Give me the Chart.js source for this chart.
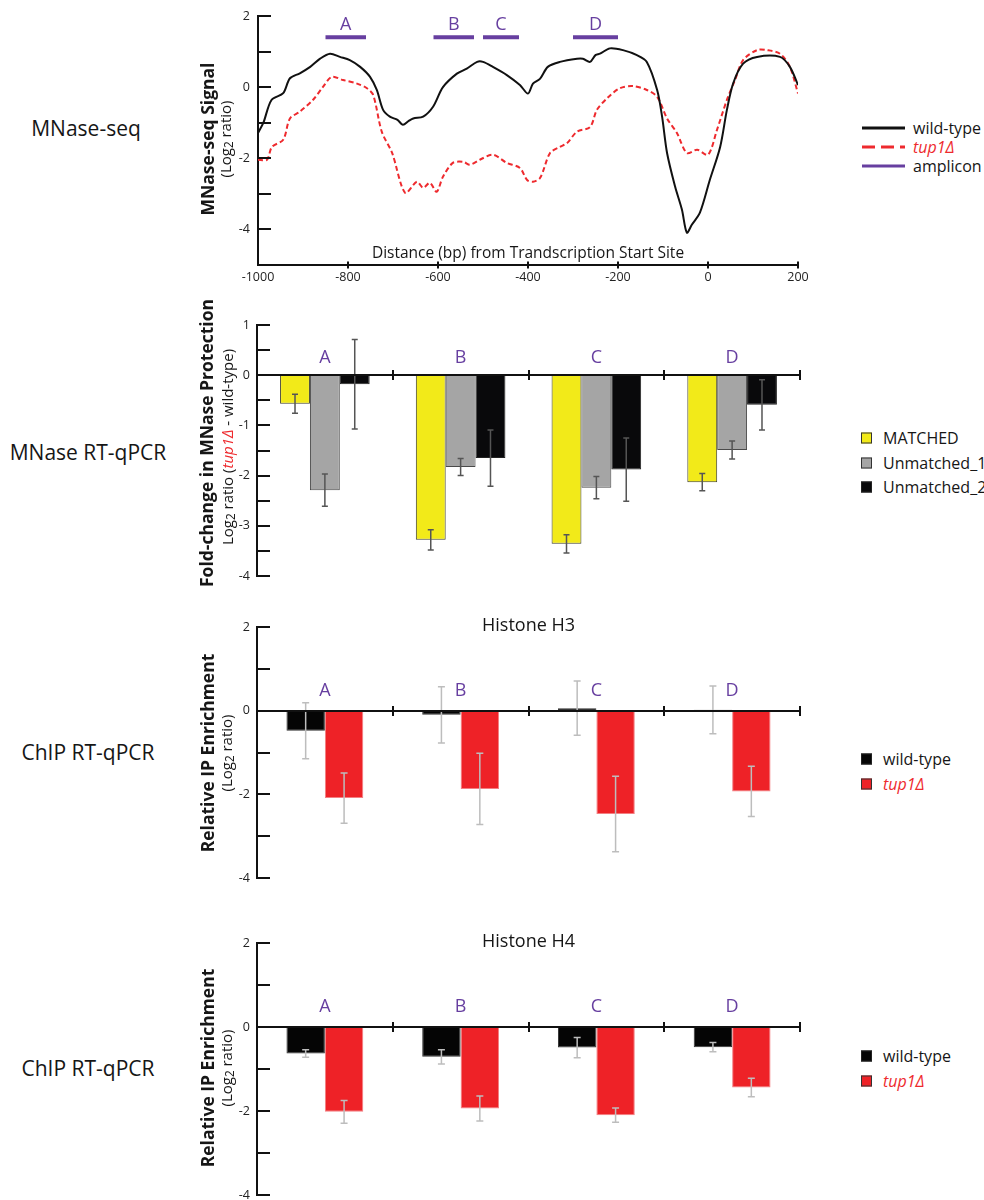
<!DOCTYPE html>
<html><head><meta charset="utf-8">
<script src="https://cdn.jsdelivr.net/npm/chart.js@4.4.1/dist/chart.umd.min.js"></script>
<style>
html,body{margin:0;padding:0;overflow:hidden;background:#fff;}
#page{position:relative;width:984px;height:1200px;overflow:hidden;font-family:'Open Sans',sans-serif;color:#161616;}
.cv{position:absolute;}
.lbl{position:absolute;transform:translate(-50%,-50%);white-space:nowrap;font-size:21px;}
.rot{position:absolute;transform:translate(-50%,-50%) rotate(-90deg);white-space:nowrap;}
.b{font-weight:bold;font-size:17.5px;}
.r{font-size:15px;}
.leg{position:absolute;white-space:nowrap;font-size:16px;transform:translateY(-50%);line-height:1;}
.sw{position:absolute;width:11px;height:11px;box-sizing:border-box;transform:translateY(-50%);}
.ln{position:absolute;width:43px;height:3px;transform:translateY(-50%);}
.tup{color:#ee2a2e;font-style:italic;}
.s2{font-size:78%;position:relative;top:2px;}
</style></head><body><div id="page">
<canvas id="c1" class="cv" width="620" height="300" style="left:200px;top:0px;width:620px;height:300px"></canvas>
<canvas id="c2" class="cv" width="620" height="300" style="left:200px;top:300px;width:620px;height:300px"></canvas>
<canvas id="c3" class="cv" width="620" height="290" style="left:200px;top:610px;width:620px;height:290px"></canvas>
<canvas id="c4" class="cv" width="620" height="295" style="left:200px;top:920px;width:620px;height:295px"></canvas>

<div class="lbl" style="left:86px;top:128px">MNase-seq</div>
<div class="lbl" style="left:88px;top:452px">MNase RT-qPCR</div>
<div class="lbl" style="left:88px;top:752px">ChIP RT-qPCR</div>
<div class="lbl" style="left:88px;top:1068px">ChIP RT-qPCR</div>

<div class="rot b" style="left:207px;top:139px">MNase-seq Signal</div>
<div class="rot r" style="left:225px;top:139px">(Log<span class="s2">2</span> ratio)</div>
<div class="rot b" style="left:206px;top:443px">Fold-change in MNase Protection</div>
<div class="rot r" style="left:227px;top:447px">Log<span class="s2">2</span> ratio (<span class="tup">tup1Δ</span> - wild-type)</div>
<div class="rot b" style="left:207px;top:753px">Relative IP Enrichment</div>
<div class="rot r" style="left:226px;top:753px">(Log<span class="s2">2</span> ratio)</div>
<div class="rot b" style="left:207px;top:1068px">Relative IP Enrichment</div>
<div class="rot r" style="left:226px;top:1068px">(Log<span class="s2">2</span> ratio)</div>

<div class="ln" style="left:862px;top:128px;background:#111;height:3px"></div>
<div class="ln" style="left:862px;top:147px;background:repeating-linear-gradient(90deg,#ee2a2e 0 13px,transparent 13px 19px)"></div>
<div class="ln" style="left:862px;top:166px;background:#673fa0;height:3px"></div>
<div class="leg" style="left:913px;top:128px">wild-type</div>
<div class="leg tup" style="left:913px;top:147px">tup1Δ</div>
<div class="leg" style="left:913px;top:166px">amplicon</div>

<div class="sw" style="left:861px;top:438px;background:#f2ea19;border:1px solid #333"></div>
<div class="sw" style="left:861px;top:463px;background:#a5a5a5;border:1px solid #333"></div>
<div class="sw" style="left:861px;top:487px;background:#09090b;border:1px solid #222"></div>
<div class="leg" style="left:883px;top:438px">MATCHED</div>
<div class="leg" style="left:883px;top:463px">Unmatched_1</div>
<div class="leg" style="left:883px;top:487px">Unmatched_2</div>

<div class="sw" style="left:861px;top:759px;background:#050505;border:1px solid #222"></div>
<div class="sw" style="left:861px;top:784px;background:#ee2227;border:1px solid #333"></div>
<div class="leg" style="left:883px;top:759px">wild-type</div>
<div class="leg tup" style="left:883px;top:784px">tup1Δ</div>

<div class="sw" style="left:861px;top:1056px;background:#050505;border:1px solid #222"></div>
<div class="sw" style="left:861px;top:1081px;background:#ee2227;border:1px solid #333"></div>
<div class="leg" style="left:883px;top:1056px">wild-type</div>
<div class="leg tup" style="left:883px;top:1081px">tup1Δ</div>
</div>
<script>
// ---------------- DATA ----------------
// Panel 1: MNase-seq signal (log2 ratio) vs distance from TSS (bp)
const wtPos = [-1000,-988,-970,-944,-929,-907,-884,-862,-840,-818,-796,-773,-751,-736,-722,-707,-690,-678,-665,-655,-633,-611,-589,-558,-536,-513,-500,-478,-447,-418,-400,-389,-373,-356,-329,-291,-278,-262,-250,-240,-218,-189,-158,-136,-113,-102,-91,-73,-58,-47,-36,-18,4,27,42,56,78,109,160,182,200];
const wtVal = [-1.29,-1.0,-0.36,-0.17,0.25,0.39,0.57,0.80,0.94,0.85,0.76,0.57,0.29,-0.08,-0.64,-0.83,-0.92,-1.06,-0.95,-0.88,-0.83,-0.55,0.0,0.38,0.52,0.71,0.71,0.57,0.34,0.06,-0.18,0.10,0.24,0.57,0.71,0.80,0.80,0.71,0.90,0.94,1.09,1.04,0.90,0.71,-0.08,-0.83,-1.85,-2.80,-3.44,-4.09,-3.87,-3.53,-2.61,-1.68,-0.64,0.11,0.66,0.85,0.85,0.57,0.06];
const tupPos = [-1000,-980,-969,-944,-929,-907,-878,-856,-836,-811,-780,-758,-744,-725,-702,-673,-647,-633,-618,-603,-589,-567,-544,-529,-507,-478,-447,-418,-402,-389,-373,-351,-329,-313,-291,-262,-247,-224,-196,-167,-136,-113,-91,-69,-47,-24,0,20,42,60,78,109,131,160,182,200];
const tupVal = [-2.04,-2.04,-1.68,-1.48,-0.88,-0.69,-0.36,0.0,0.29,0.20,0.10,-0.03,-0.22,-1.25,-1.85,-2.97,-2.66,-2.83,-2.69,-2.94,-2.52,-2.13,-2.10,-2.18,-2.04,-1.90,-2.13,-2.27,-2.61,-2.66,-2.55,-1.85,-1.68,-1.57,-1.25,-1.12,-0.64,-0.31,-0.03,0.03,-0.08,-0.27,-0.88,-1.29,-1.85,-1.76,-1.90,-1.20,-0.36,0.20,0.76,1.04,1.04,0.94,0.57,-0.18];
const ampLabels = ['A','B','C','D'];
const ampStart = [-850,-610,-500,-300];
const ampEnd   = [-760,-520,-420,-200];
const ampLevel = [1.4,1.4,1.4,1.4];
const seqXTicks = [-1000,-800,-600,-400,-200,0,200];
const seqXTitle = 'Distance (bp) from Trandscription Start Site';

// Panels 2-4: amplicon categories
const categories = ['A','B','C','D'];
// Panel 2: MNase RT-qPCR, log2 ratio (tup1Δ - wild-type)
const mnMatched = [-0.57,-3.28,-3.36,-2.13];
const mnMatchedErr = [0.19,0.20,0.18,0.17];
const mnUnm1 = [-2.29,-1.83,-2.24,-1.49];
const mnUnm1Err = [0.32,0.17,0.22,0.18];
const mnUnm2 = [-0.18,-1.65,-1.88,-0.59];
const mnUnm2Err = [0.89,0.56,0.63,0.50];
// Panel 3: Histone H3 ChIP
const h3Wt = [-0.48,-0.10,0.06,0.02];
const h3WtErr = [0.67,0.67,0.65,0.57];
const h3Tup = [-2.09,-1.87,-2.47,-1.93];
const h3TupErr = [0.60,0.85,0.90,0.60];
// Panel 4: Histone H4 ChIP
const h4Wt = [-0.63,-0.71,-0.49,-0.48];
const h4WtErr = [0.09,0.17,0.24,0.11];
const h4Tup = [-2.02,-1.94,-2.10,-1.44];
const h4TupErr = [0.27,0.30,0.17,0.22];

// ---------------- STYLE ----------------
const FONT = "'Open Sans', sans-serif";
const PURPLE = '#673fa0';
const RED = '#ee2a2e';
Chart.defaults.font.family = FONT;
Chart.defaults.color = '#222';
Chart.defaults.animation = false;

// ---------------- PANEL 1 ----------------
const ampData = [];
ampStart.forEach((s,i)=>{ampData.push({x:s,y:ampLevel[i]},{x:ampEnd[i],y:ampLevel[i]},{x:ampEnd[i]+1,y:null});});

const seqDecor = {
  id:'seqDecor',
  afterDatasetsDraw(chart){
    const {ctx, chartArea:a, scales:{x,y}} = chart;
    ctx.save();
    ctx.strokeStyle='#111'; ctx.lineWidth=2;
    y.ticks.forEach(t=>{ if(t.value<=y.min) return; const py=Math.round(y.getPixelForValue(t.value));
      ctx.beginPath(); ctx.moveTo(a.left,py); ctx.lineTo(a.left+13,py); ctx.stroke();});
    x.ticks.forEach(t=>{ if(t.value<=x.min) return; const px=Math.round(x.getPixelForValue(t.value));
      ctx.beginPath(); ctx.moveTo(px,a.bottom-3.5); ctx.lineTo(px,a.bottom+3.5); ctx.stroke();});
    ctx.fillStyle=PURPLE; ctx.font='18px '+FONT; ctx.textAlign='center'; ctx.textBaseline='middle';
    ampLabels.forEach((l,i)=>ctx.fillText(l, x.getPixelForValue((ampStart[i]+ampEnd[i])/2), y.getPixelForValue(ampLevel[i])-12));
    ctx.fillStyle='#161616'; ctx.font='15.5px '+FONT;
    ctx.fillText(seqXTitle,(a.left+a.right)/2,a.bottom-11);
    ctx.restore();
  }
};

new Chart(document.getElementById('c1'),{
  type:'line',
  data:{datasets:[
    {label:'wild-type',data:wtPos.map((p,i)=>({x:p,y:wtVal[i]})),borderColor:'#111',borderWidth:2,pointRadius:0,tension:0.3,fill:false},
    {label:'tup1Δ',data:tupPos.map((p,i)=>({x:p,y:tupVal[i]})),borderColor:RED,borderWidth:2,borderDash:[5,3],pointRadius:0,tension:0.3,fill:false},
    {label:'amplicon',data:ampData,borderColor:PURPLE,borderWidth:4,pointRadius:0,spanGaps:false,fill:false}
  ]},
  options:{responsive:false,animation:false,
    layout:{padding:{top:16,right:22,left:0,bottom:0}},
    plugins:{legend:{display:false},tooltip:{enabled:false}},
    scales:{
      x:{type:'linear',min:-1000,max:200,
        afterBuildTicks:s=>{s.ticks=seqXTicks.map(v=>({value:v}));},
        afterFit:s=>{s.height=35;},
        ticks:{font:{size:12.5},padding:5,maxRotation:0,autoSkip:false,callback:v=>String(v)},
        grid:{display:false,drawTicks:false},border:{display:true,color:'#111',width:2}},
      y:{min:-5,max:2,afterFit:s=>{s.width=58;},
        ticks:{stepSize:1,font:{size:12.5},padding:8,callback:v=>(v%2===0)?String(v):''},
        grid:{display:false,drawTicks:false},border:{display:true,color:'#111',width:2}}
    }},
  plugins:[seqDecor]
});

// ---------------- BAR PANELS ----------------
function barDecor(id, errs, errColor, capHalf, title, letterOffset){
  return {id, afterDatasetsDraw(chart){
    const {ctx, chartArea:a, scales:{x,y}} = chart;
    ctx.save();
    chart.data.datasets.forEach((ds,i)=>{
      const meta = chart.getDatasetMeta(i);
      meta.data.forEach((el,j)=>{
        const v = ds.data[j], e = errs[i][j];
        const y1 = y.getPixelForValue(v+e), y2 = y.getPixelForValue(v-e);
        ctx.strokeStyle=errColor; ctx.lineWidth=1.5;
        ctx.beginPath();
        ctx.moveTo(el.x,y1); ctx.lineTo(el.x,y2);
        ctx.moveTo(el.x-capHalf,y1); ctx.lineTo(el.x+capHalf,y1);
        ctx.moveTo(el.x-capHalf,y2); ctx.lineTo(el.x+capHalf,y2);
        ctx.stroke();
      });
    });
    const z = Math.round(y.getPixelForValue(0));
    ctx.strokeStyle='#111'; ctx.lineWidth=2;
    ctx.beginPath(); ctx.moveTo(a.left,z); ctx.lineTo(a.right,z); ctx.stroke();
    for(let k=1;k<=categories.length;k++){
      const px = Math.round(x.getPixelForValue(k-0.5));
      ctx.beginPath(); ctx.moveTo(px,z-5); ctx.lineTo(px,z+5); ctx.stroke();
    }
    y.ticks.forEach(t=>{ const py=Math.round(y.getPixelForValue(t.value));
      ctx.beginPath(); ctx.moveTo(a.left,py); ctx.lineTo(a.left+13,py); ctx.stroke();});
    ctx.textAlign='center'; ctx.textBaseline='middle';
    ctx.fillStyle=PURPLE; ctx.font='18px '+FONT;
    categories.forEach((c,j)=>ctx.fillText(c, x.getPixelForValue(j), z-letterOffset));
    if(title){ ctx.fillStyle='#161616'; ctx.font='18px '+FONT; ctx.fillText(title,(a.left+a.right)/2,a.top-1); }
    ctx.restore();
  }};
}

function yAxis(min,max,step,labelEvery){
  return {min,max,afterFit:s=>{s.width=57;},
    ticks:{stepSize:step,font:{size:12.5},padding:7,callback:v=>(Math.abs(v/labelEvery-Math.round(v/labelEvery))<1e-6)?String(Math.round(v)):''},
    grid:{display:false,drawTicks:false},border:{display:true,color:'#111',width:2}};
}

new Chart(document.getElementById('c2'),{
  type:'bar',
  data:{labels:categories,datasets:[
    {label:'MATCHED',data:mnMatched,backgroundColor:'#f2ea19',borderColor:'#3d3d2a',borderWidth:1},
    {label:'Unmatched_1',data:mnUnm1,backgroundColor:'#a5a5a5',borderColor:'#4a4a4a',borderWidth:1},
    {label:'Unmatched_2',data:mnUnm2,backgroundColor:'#09090b',borderColor:'#222',borderWidth:1}
  ]},
  options:{responsive:false,animation:false,
    layout:{padding:{top:25,right:20,bottom:24,left:0}},
    plugins:{legend:{display:false},tooltip:{enabled:false}},
    datasets:{bar:{categoryPercentage:0.66,barPercentage:1}},
    scales:{x:{display:false},y:yAxis(-4,1,0.5,1)}},
  plugins:[barDecor('mn',[mnMatchedErr,mnUnm1Err,mnUnm2Err],'#555',3,null,17)]
});

new Chart(document.getElementById('c3'),{
  type:'bar',
  data:{labels:categories,datasets:[
    {label:'wild-type',data:h3Wt,backgroundColor:'#050505',borderColor:'#333',borderWidth:1},
    {label:'tup1Δ',data:h3Tup,backgroundColor:'#ee2227',borderColor:'#f37f82',borderWidth:1}
  ]},
  options:{responsive:false,animation:false,
    layout:{padding:{top:17,right:20,bottom:22,left:0}},
    plugins:{legend:{display:false},tooltip:{enabled:false}},
    datasets:{bar:{categoryPercentage:0.566,barPercentage:1}},
    scales:{x:{display:false},y:yAxis(-4,2,1,2)}},
  plugins:[barDecor('h3',[h3WtErr,h3TupErr],'#bdbdbd',3.5,'Histone H3',20)]
});

new Chart(document.getElementById('c4'),{
  type:'bar',
  data:{labels:categories,datasets:[
    {label:'wild-type',data:h4Wt,backgroundColor:'#050505',borderColor:'#333',borderWidth:1},
    {label:'tup1Δ',data:h4Tup,backgroundColor:'#ee2227',borderColor:'#f37f82',borderWidth:1}
  ]},
  options:{responsive:false,animation:false,
    layout:{padding:{top:23,right:20,bottom:20,left:0}},
    plugins:{legend:{display:false},tooltip:{enabled:false}},
    datasets:{bar:{categoryPercentage:0.566,barPercentage:1}},
    scales:{x:{display:false},y:yAxis(-4,2,1,2)}},
  plugins:[barDecor('h4',[h4WtErr,h4TupErr],'#bdbdbd',3.5,'Histone H4',20)]
});
</script>
</body></html>
